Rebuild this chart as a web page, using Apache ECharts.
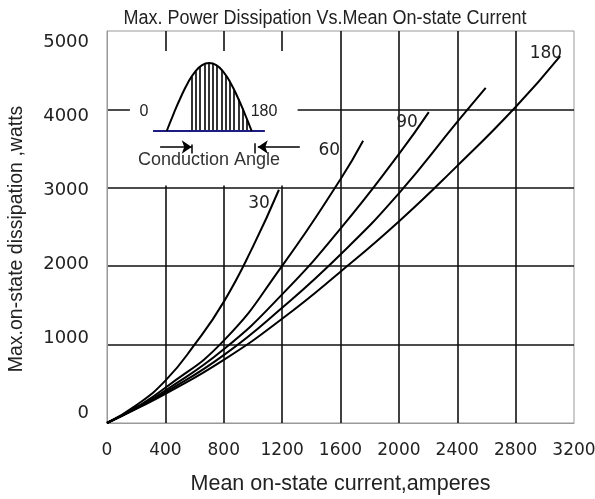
<!DOCTYPE html>
<html><head><meta charset="utf-8">
<script src="https://cdn.jsdelivr.net/npm/echarts@6/dist/echarts.min.js"></script>
<style>html,body{margin:0;padding:0;background:#fff}#c{width:595px;height:499px}</style>
</head><body><div id="c"></div>
<script>
// ---- chart data ----
const xTickValues = [0, 400, 800, 1200, 1600, 2000, 2400, 2800, 3200];
const yTickValues = [0, 1000, 2000, 3000, 4000, 5000];
const curveNames = ['30', '60', '90', '120', '180'];
const current30 = [0, 200, 400, 600, 800, 1000, 1178];
const power30   = [0, 225, 540, 1000, 1545, 2250, 2975];
const current60 = [0, 200, 400, 800, 1200, 1600, 1755];
const power60   = [0, 200, 450, 1050, 2005, 3110, 3600];
const current90 = [0, 200, 400, 800, 1200, 1600, 2000, 2205];
const power90   = [0, 190, 415, 940, 1640, 2480, 3430, 3965];
const current120 = [0, 200, 400, 800, 1200, 1600, 2000, 2400, 2595];
const power120   = [0, 185, 390, 865, 1470, 2150, 2930, 3840, 4275];
const current180 = [0, 200, 400, 800, 1200, 1600, 2000, 2400, 2800, 3105];
const power180   = [0, 180, 370, 805, 1330, 1930, 2570, 3280, 4030, 4680];
// inset schematic (half sine wave, conduction angle)
const humpAngles = [0, 15, 30, 45, 60, 75, 90, 105, 120, 135, 150, 165, 180];
const humpLevels = [0, 0.26, 0.5, 0.71, 0.87, 0.97, 1, 0.97, 0.87, 0.71, 0.5, 0.26, 0];
const hatchAngles = [53, 62, 71, 80, 89, 98, 107, 116, 125, 134, 143, 152, 161, 170];
const hatchLevels = [0.80, 0.88, 0.95, 0.98, 1.0, 0.99, 0.96, 0.90, 0.82, 0.72, 0.60, 0.47, 0.33, 0.17];

const curves = [
  [current30, power30], [current60, power60], [current90, power90],
  [current120, power120], [current180, power180]
];
// label placement relative to each curve end: [dx, dy] or null
const labelOffsets = [[-9, 14], [-23, 10], [-11, 10], null, [2, -3]];

const chart = echarts.init(document.getElementById('c'), null, {renderer: 'canvas'});
const txt = '#222';
const plain = v => String(v);
const series = curves.map((c, k) => {
  const xs = c[0], ys = c[1];
  const s = {
    name: curveNames[k], type: 'line', xAxisIndex: 0, yAxisIndex: 0,
    data: xs.map((x, i) => [x, ys[i]]), smooth: true, symbol: 'none',
    lineStyle: {color: '#000', width: 2}, z: 2, silent: true
  };
  if (labelOffsets[k]) {
    s.markPoint = {
      symbol: 'circle', symbolSize: 0, silent: true, animation: false,
      data: [{coord: [xs[xs.length - 1], ys[ys.length - 1]]}],
      label: {show: true, formatter: curveNames[k], position: 'left', distance: 0,
        offset: labelOffsets[k], color: txt, fontSize: 17, fontFamily: 'DejaVu Sans'}
    };
  }
  return s;
});
// white panel behind the inset
series[4].markArea = {
  silent: true, animation: false,
  itemStyle: {color: '#fff', opacity: 1},
  data: [[{coord: [157, 4745]}, {coord: [1306, 3030]}]]
};
// inset
series.push({
  type: 'line', xAxisIndex: 1, yAxisIndex: 2, z: 5, silent: true,
  data: [[-29, 0], [208, 0]], symbol: 'none', lineStyle: {color: '#1c1c82', width: 2}
});
series.push({
  type: 'lines', coordinateSystem: 'cartesian2d', xAxisIndex: 1, yAxisIndex: 2, z: 5, silent: true,
  data: hatchAngles.map((a, i) => ({coords: [[a, 0], [a, hatchLevels[i]]]})),
  lineStyle: {color: '#000', width: 1.6, opacity: 1}
});
series.push({
  type: 'line', xAxisIndex: 1, yAxisIndex: 2, z: 6, silent: true,
  data: humpAngles.map((a, i) => [a, humpLevels[i]]), smooth: true, symbol: 'none',
  lineStyle: {color: '#000', width: 2}
});
series.push({
  type: 'lines', coordinateSystem: 'cartesian2d', xAxisIndex: 1, yAxisIndex: 2, z: 6, silent: true,
  symbol: ['none', 'arrow'], symbolSize: 10,
  data: [{coords: [[-14, -0.235], [53, -0.235]]}, {coords: [[282, -0.235], [193, -0.235]]}],
  lineStyle: {color: '#000', width: 1.5, opacity: 1}
});
series.push({
  type: 'lines', coordinateSystem: 'cartesian2d', xAxisIndex: 1, yAxisIndex: 2, z: 6, silent: true,
  data: [{coords: [[54, -0.2], [54, -0.33]]}, {coords: [[187, -0.18], [187, -0.33]]}],
  lineStyle: {color: '#000', width: 1.5, opacity: 1}
});

chart.setOption({
  animation: false,
  backgroundColor: '#fff',
  grid: [
    {left: 107, right: 21, top: 31, bottom: 76, show: true, borderColor: '#999', borderWidth: 1,
     backgroundColor: 'transparent', containLabel: false, outerBoundsMode: 'none'},
    {left: 138.4, top: 59.6, width: 165.2, height: 105.4, containLabel: false, outerBoundsMode: 'none'}
  ],
  xAxis: [
    {type: 'value', gridIndex: 0, min: 0, max: 3200, interval: 400,
     name: 'Mean on-state current,amperes', nameLocation: 'middle', nameGap: 50,
     nameTextStyle: {fontSize: 21.5, fontFamily: 'Liberation Sans', color: txt},
     axisLine: {show: true, lineStyle: {color: '#999', width: 1}},
     axisTick: {show: false},
     axisLabel: {margin: 19, fontSize: 17, fontFamily: 'DejaVu Sans', color: txt,
       customValues: xTickValues, formatter: plain},
     splitLine: {show: true, showMinLine: false, showMaxLine: false, lineStyle: {color: '#111', width: 1.6}}},
    {type: 'value', gridIndex: 1, min: -60, max: 290, show: false}
  ],
  yAxis: [
    {type: 'value', gridIndex: 0, min: 0, max: 5000, interval: 1000,
     name: 'Max.on-state dissipation ,watts', nameLocation: 'middle', nameGap: 80,
     nameTextStyle: {fontSize: 19.5, fontFamily: 'Liberation Sans', color: txt, padding: [0, 24, 0, 0]},
     axisLine: {show: true, lineStyle: {color: '#999', width: 1}},
     axisTick: {show: false}, axisLabel: {show: false},
     splitLine: {show: true, showMinLine: false, showMaxLine: false, lineStyle: {color: '#111', width: 1.6}}},
    {type: 'value', gridIndex: 0, min: -135, max: 5148, position: 'left',
     axisLine: {show: false}, axisTick: {show: false}, splitLine: {show: false},
     axisLabel: {margin: 18, fontSize: 18, fontFamily: 'DejaVu Sans', color: txt,
       customValues: yTickValues, formatter: plain}},
    {type: 'value', gridIndex: 1, min: -0.5, max: 1.05, show: false}
  ],
  graphic: [
    {type: 'text', x: 325, y: 18, z: 10, silent: true, scaleX: 0.9, originX: 0, originY: 0,
     style: {text: 'Max. Power Dissipation Vs.Mean On-state Current', align: 'center', verticalAlign: 'middle',
       font: '20px "Liberation Sans", sans-serif', fill: txt}},
    {type: 'text', x: 144, y: 112, z: 10, silent: true,
     style: {text: '0', align: 'center', verticalAlign: 'middle', font: '16px "Liberation Sans"', fill: txt}},
    {type: 'text', x: 264, y: 112, z: 10, silent: true,
     style: {text: '180', align: 'center', verticalAlign: 'middle', font: '16px "Liberation Sans"', fill: txt}},
    {type: 'text', x: 209, y: 160, z: 10, silent: true,
     style: {text: 'Conduction Angle', align: 'center', verticalAlign: 'middle', font: '18px "Liberation Sans"', fill: '#333'}}
  ],
  series: series
});
</script></body></html>
